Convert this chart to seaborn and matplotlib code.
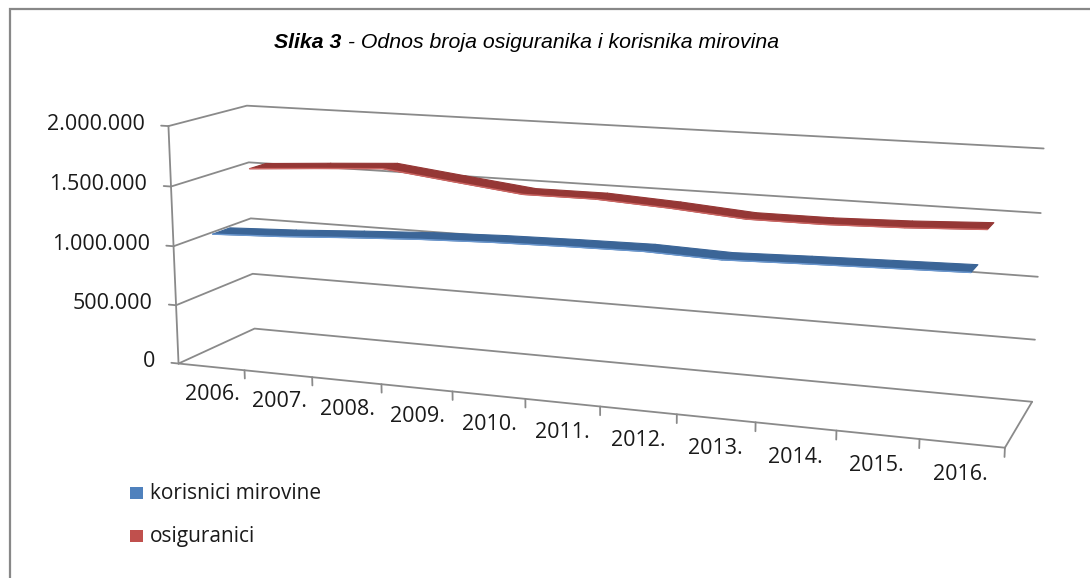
import numpy as np
import matplotlib
matplotlib.use('Agg')
import matplotlib.pyplot as plt
from matplotlib.patches import Rectangle
from mpl_toolkits.mplot3d import proj3d
from mpl_toolkits.mplot3d.art3d import Poly3DCollection
import seaborn as sns

sns.set_theme(style="white")
plt.rcParams['font.family'] = ['Open Sans', 'DejaVu Sans']

# podaci (ocitano sa slike)
godine = ['2006.', '2007.', '2008.', '2009.', '2010.', '2011.',
          '2012.', '2013.', '2014.', '2015.', '2016.']
korisnici = [1104000, 1128000, 1162000, 1192000, 1212000, 1223000,
             1230000, 1210000, 1227000, 1241000, 1255000]
osiguranici = [1548000, 1586000, 1621000, 1551000, 1483000, 1484000,
               1451000, 1405000, 1405000, 1422000, 1451000]
serije = ['korisnici mirovine', 'osiguranici']
z_ticks = [0, 500000, 1000000, 1500000, 2000000]
z_labels = ['0', '500.000', '1.000.000', '1.500.000', '2.000.000']

W, H = 1090, 578
boje = sns.color_palette(['#4F81BD', '#C0504D'])
boje_traka = ['#3B6597', '#953735']
boje_rub = ['#6A97CF', '#CC6663']
siva = '#8A8A8A'
crta = dict(color=siva, lw=1.3, zorder=1, clip_on=False)

fig = plt.figure(figsize=(W / 100, H / 100), dpi=100)

# 3D podrucje crtanja (Excel 3-D line)
ax = fig.add_axes([0.1258, -0.2369, 0.8110, 1.5294], projection='3d',
                  computed_zorder=False)
ax.set_proj_type('persp', focal_length=0.44)
ax.view_init(elev=12.1, azim=-69.8)
ax.set_box_aspect((889, 167, 259))
n = len(godine)
ax.set_xlim(-0.5, n - 0.5)
ax.set_ylim(0, 1)
ax.set_zlim(0, z_ticks[-1])
ax.set_axis_off()
ax.patch.set_alpha(0)
M = ax.get_proj()


def tekst(x, y, z, s, **kw):
    # 3D tocka -> 2D koordinate osi
    px, py, _ = proj3d.proj_transform(x, y, z, M)
    ax.text2D(px, py, s, transform=ax.transData, **kw)


x0, x1 = -0.5, n - 0.5
# mreza na zadnjem i lijevom zidu
for v in z_ticks:
    ax.plot([x0, x0, x1], [0, 1, 1], [v, v, v], **crta)
# pod
ax.plot([x0, x1], [0, 0], [0, 0], **crta)
ax.plot([x1, x1], [0, 1], [0, 0], **crta)
# okomita os + oznake
ax.plot([x0, x0], [0, 0], [0, z_ticks[-1]], **crta)
for v, lab in zip(z_ticks, z_labels):
    ax.plot([x0, x0 - 0.11], [0, 0], [v, v], **crta)
    tekst(x0 - 0.36, 0, v, lab, ha='right', va='center', fontsize=15.5,
          color='#1a1a1a')
# kategorije
for k in range(1, n + 1):
    b = x0 + k
    ax.plot([b, b], [0, 0], [0, -70000], **crta)
for i, g in enumerate(godine):
    tekst(i, 0, -240000, g, ha='center', va='center', fontsize=15.5,
          color='#1a1a1a')

# trake serija
xs = np.arange(n)
dubine = [(0.08, 0.30), (0.58, 0.80)]
for vals, (d0, d1), fc, ec in zip([korisnici, osiguranici], dubine,
                                  boje_traka, boje_rub):
    verts = [[(xs[i], d0, vals[i]), (xs[i + 1], d0, vals[i + 1]),
              (xs[i + 1], d1, vals[i + 1]), (xs[i], d1, vals[i])]
             for i in range(n - 1)]
    poly = Poly3DCollection(verts, facecolor=fc, edgecolor=fc, linewidth=0.8)
    poly.set_zorder(3)
    poly.set_clip_on(False)
    ax.add_collection3d(poly)
    ax.plot(xs, [d0] * n, vals, color=ec, lw=1.0, zorder=4, clip_on=False)

# naslov
ty = 1 - 42 / H
fig.text(341.5 / W, ty, 'Slika 3', ha='right', va='center', fontsize=15.3,
         family=['Liberation Sans', 'DejaVu Sans'], weight='bold',
         style='italic', color='black')
fig.text(341.5 / W, ty, ' - Odnos broja osiguranika i korisnika mirovina',
         ha='left', va='center', fontsize=15.3,
         family=['Liberation Sans', 'DejaVu Sans'], style='italic',
         color='black')

# legenda
for j, (lab, c) in enumerate(zip(serije, boje)):
    yb = [499, 542][j]
    fig.patches.append(Rectangle((130 / W, 1 - yb / H), 13 / W, 12 / H,
                                 transform=fig.transFigure, facecolor=c,
                                 edgecolor='none'))
    fig.text(150 / W, 1 - yb / H, lab, ha='left', va='baseline',
             fontsize=15, color='#1a1a1a')

# okvir
fig.patches.append(Rectangle((10 / W, -0.1), 1.2, 1 - 9 / H + 0.1,
                             transform=fig.transFigure, facecolor='none',
                             edgecolor='#888888', lw=1.6))

fig.savefig('out.png', dpi=100)
